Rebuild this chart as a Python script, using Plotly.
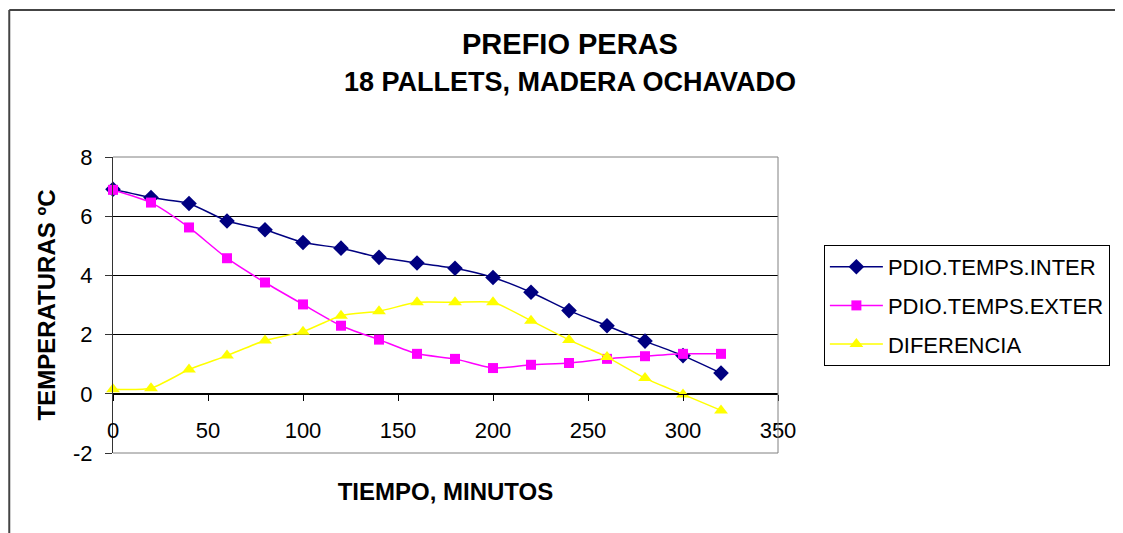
import plotly.graph_objects as go

tiempo = [0, 20, 40, 60, 80, 100, 120, 140, 160, 180, 200, 220, 240, 260, 280, 300, 320]
temp_inter = [6.91, 6.63, 6.43, 5.84, 5.54, 5.11, 4.92, 4.61, 4.42, 4.24, 3.93, 3.43, 2.81, 2.30, 1.78, 1.29, 0.70]
temp_exter = [6.89, 6.46, 5.62, 4.58, 3.76, 3.02, 2.30, 1.83, 1.35, 1.18, 0.87, 0.98, 1.04, 1.18, 1.27, 1.35, 1.35]
diferencia = [0.15, 0.19, 0.82, 1.29, 1.80, 2.10, 2.64, 2.79, 3.09, 3.09, 3.09, 2.47, 1.82, 1.24, 0.53, -0.02, -0.56]

series_names = ["PDIO.TEMPS.INTER", "PDIO.TEMPS.EXTER", "DIFERENCIA"]
x_ticks = [0, 50, 100, 150, 200, 250, 300, 350]
y_ticks = [-2, 0, 2, 4, 6, 8]

FONT = "Liberation Sans, Arial, sans-serif"

fig = go.Figure()
styles = [
    dict(color="#000080", symbol="diamond", size=12),
    dict(color="#FF00FF", symbol="square", size=10),
    dict(color="#FFFF00", symbol="triangle-up", size=12),
]
for i, (name, vals) in enumerate(zip(series_names, [temp_inter, temp_exter, diferencia])):
    st = styles[i]
    fig.add_trace(go.Scatter(
        x=tiempo, y=vals, name=name, mode="lines+markers",
        line=dict(color=st["color"], width=1.5, shape="spline", smoothing=0.6),
        marker=dict(color=st["color"], symbol=st["symbol"], size=st["size"], line=dict(width=0)),
        legendgroup=f"g{i}", cliponaxis=False,
    ))

fig.update_layout(
    width=1115, height=525,
    margin=dict(l=105, r=345, t=149, b=80, autoexpand=False),
    paper_bgcolor="white", plot_bgcolor="white",
    font=dict(family=FONT, color="black"),
    showlegend=True,
    legend=dict(
        x=1.069, y=0.7027, xanchor="left", yanchor="top",
        bordercolor="black", borderwidth=1,
        font=dict(size=22, family=FONT, color="black"),
        tracegroupgap=7, itemwidth=53,
    ),
    xaxis=dict(
        range=[0, 350], tickvals=x_ticks, ticktext=[str(v) for v in x_ticks],
        anchor="free", position=0.2,
        showline=True, linecolor="black", linewidth=1,
        ticks="outside", ticklen=6, tickcolor="black",
        showgrid=False, zeroline=False,
        tickfont=dict(size=22, family=FONT, color="black"),
        ticklabelstandoff=11,
        title=dict(text="<b>TIEMPO, MINUTOS</b>", font=dict(size=24, family=FONT), standoff=40),
    ),
    yaxis=dict(
        range=[-2, 8], tickvals=y_ticks, ticktext=[str(v) for v in y_ticks],
        showline=True, linecolor="#333333", linewidth=1,
        ticks="outside", ticklen=7, tickcolor="#333333",
        showgrid=True, gridcolor="black", gridwidth=1, zeroline=False,
        tickfont=dict(size=22, family=FONT, color="black"),
        ticklabelstandoff=8,
        title=dict(text="<b>TEMPERATURAS ºC</b>", font=dict(size=24, family=FONT), standoff=10),
    ),
    annotations=[
        dict(text="<b>PREFIO PERAS</b>", xref="paper", yref="paper", x=0.687, y=1.382,
             xanchor="center", yanchor="middle", showarrow=False,
             font=dict(size=29, family=FONT, color="black")),
        dict(text="<b>18 PALLETS, MADERA OCHAVADO</b>", xref="paper", yref="paper", x=0.687, y=1.255,
             xanchor="center", yanchor="middle", showarrow=False,
             font=dict(size=27, family=FONT, color="black")),
    ],
    shapes=[
        # plot area border (top, right, bottom)
        dict(type="line", xref="x domain", yref="y domain", x0=0, x1=1, y0=1, y1=1,
             line=dict(color="#808080", width=1), layer="above"),
        dict(type="line", xref="x domain", yref="y domain", x0=1, x1=1, y0=0, y1=1,
             line=dict(color="#808080", width=1), layer="above"),
        dict(type="line", xref="x domain", yref="y domain", x0=0, x1=1, y0=0, y1=0,
             line=dict(color="#808080", width=1), layer="above"),
        # outer chart frame
        dict(type="line", xref="paper", yref="paper", x0=-0.156, x1=1.53, y0=1.4966, y1=1.4966,
             line=dict(color="#444444", width=2)),
        dict(type="line", xref="paper", yref="paper", x0=-0.156, x1=-0.156, y0=1.4966, y1=-0.3,
             line=dict(color="#444444", width=2)),
    ],
)

fig.write_html("out.html")
